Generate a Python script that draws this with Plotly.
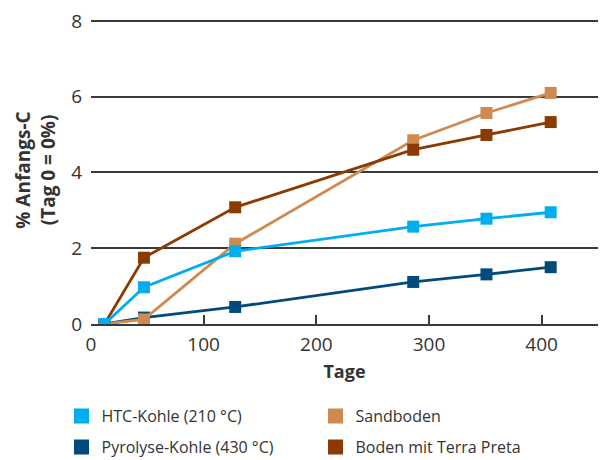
import plotly.graph_objects as go

# Data
tage = [12, 47, 128, 286, 351, 408]
htc_kohle = [0.0, 0.97, 1.92, 2.57, 2.78, 2.95]
pyrolyse_kohle = [0.0, 0.17, 0.45, 1.11, 1.31, 1.50]
sandboden = [0.0, 0.12, 2.12, 4.85, 5.57, 6.10]
terra_preta = [0.0, 1.75, 3.08, 4.60, 4.99, 5.33]

x_ticks = [0, 100, 200, 300, 400]
y_ticks = [0, 2, 4, 6, 8]

names = {
    "htc": "HTC-Kohle (210 °C)",
    "pyro": "Pyrolyse-Kohle (430 °C)",
    "sand": "Sandboden",
    "tp": "Boden mit Terra Preta",
}
colors = {
    "htc": "#00aeef",
    "pyro": "#004b7c",
    "sand": "#cf8a52",
    "tp": "#8b3a00",
}
values = {"htc": htc_kohle, "pyro": pyrolyse_kohle, "sand": sandboden, "tp": terra_preta}

FONT = "Open Sans"
TXT = "#333333"

fig = go.Figure()

# draw order: bottom -> top
for key in ["pyro", "sand", "tp", "htc"]:
    fig.add_trace(go.Scatter(
        x=tage, y=values[key], mode="lines+markers",
        line=dict(color=colors[key], width=2.8),
        marker=dict(symbol="square", size=12, color=colors[key]),
        showlegend=False, hoverinfo="x+y", name=names[key],
    ))

# legend entries (two rows, two columns)
for key, lg in [("htc", "legend"), ("sand", "legend"), ("pyro", "legend2"), ("tp", "legend2")]:
    fig.add_trace(go.Scatter(
        x=[None], y=[None], mode="markers",
        marker=dict(symbol="square", size=15, color=colors[key]),
        name=names[key], legend=lg, showlegend=True,
    ))

legend_common = dict(
    orientation="h", xanchor="left", yanchor="middle",
    xref="container", yref="container",
    font=dict(family=FONT, size=16, color=TXT),
    entrywidthmode="pixels", entrywidth=209,
    bgcolor="rgba(0,0,0,0)", borderwidth=0, itemclick=False, itemdoubleclick=False,
)

fig.update_layout(
    width=600, height=460,
    margin=dict(l=91, r=2, t=16, b=136, autoexpand=False),
    paper_bgcolor="white", plot_bgcolor="white",
    font=dict(family=FONT, color=TXT),
    legend=dict(x=61.5 / 600, y=1 - 416 / 460, **legend_common),
    legend2=dict(x=61.5 / 600, y=1 - 447 / 460, **legend_common),
    xaxis=dict(
        range=[0, 450], tickvals=x_ticks, automargin=False,
        ticks="inside", ticklen=9, tickwidth=1.5, tickcolor="#3a3a3a",
        showline=True, linecolor="#3a3a3a", linewidth=1.5,
        showgrid=False, zeroline=False,
        ticklabelstandoff=2,
        tickfont=dict(family=FONT, size=19, color=TXT),
        title=dict(text="<b>Tage</b>", font=dict(family=FONT, size=18, color=TXT), standoff=10),
    ),
    yaxis=dict(
        range=[0, 8.13], tickvals=y_ticks, automargin=False,
        showgrid=True, gridcolor="#3a3a3a", gridwidth=1.6,
        showline=False, zeroline=False, ticks="",
        ticklabelstandoff=8,
        tickfont=dict(family=FONT, size=19, color=TXT),
        title=dict(text="<b>% Anfangs-C<br>(Tag 0 = 0%)</b>",
                   font=dict(family=FONT, size=19, color=TXT), standoff=10),
    ),
)

fig.write_html("out.html", config={"displayModeBar": False},
               post_script="document.body.style.margin='0';")
